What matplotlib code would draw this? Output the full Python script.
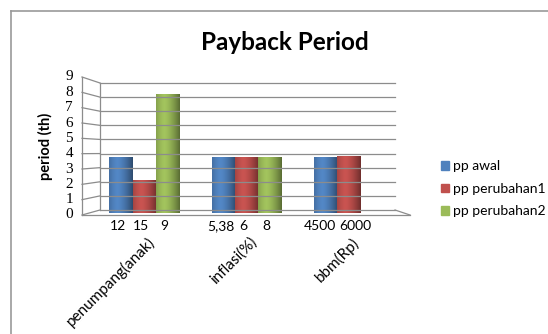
import numpy as np
import matplotlib
matplotlib.use("Agg")
import matplotlib.pyplot as plt
from matplotlib.patches import Rectangle
from matplotlib.lines import Line2D

plt.rcParams['font.family'] = ['Lato', 'DejaVu Sans']

categories = ["penumpang(anak)", "inflasi(%)", "bbm(Rp)"]
series = ["pp awal", "pp perubahan1", "pp perubahan2"]
pp_awal = [3.75, 3.75, 3.75]
pp_perubahan1 = [2.2, 3.75, 3.85]
pp_perubahan2 = [8.0, 3.75, 0]
bar_labels = [["12", "15", "9"], ["5,38", "6", "8"], ["4500", "6000", ""]]
colors = ["#4F81BD", "#C0504D", "#9BBB59"]

W, H = 548, 334
fig = plt.figure(figsize=(W / 100, H / 100), dpi=100)


def px_line(xs, ys, **kw):
    # decoration drawn in pixel coords (origin top-left)
    fig.add_artist(Line2D([v / W for v in xs], [1 - v / H for v in ys], **kw))


# chart frame (left + top border only visible)
px_line([11, 11], [334, 11], color="#999999", lw=1.2)
px_line([11, 548], [11, 11], color="#999999", lw=1.2)

# pseudo-3D walls: back wall 0..9 at y 210..83, front edge at y 215..77
grid_kw = dict(color="#8c8c8c", lw=0.9)
for t in range(10):
    yb = 210 - t * (210 - 83) / 9
    yf = 215 - t * (215 - 77) / 9
    px_line([100, 395], [yb, yb], **grid_kw)
    px_line([82, 100], [yf, yb], **grid_kw)
    fig.text(73 / W, 1 - yf / H, str(t), ha="right", va="center", fontsize=11,
             family="Liberation Serif")
px_line([82, 82], [77, 215], **grid_kw)
px_line([100, 100], [83, 210], **grid_kw)
px_line([82, 410], [215, 215], **grid_kw)
px_line([395, 410], [210, 215], **grid_kw)

# bars axes: 0 at y=213, 9 at y=79
ax = fig.add_axes([100 / W, 1 - 213 / H, (395 - 100) / W, (213 - 79) / H])
ax.patch.set_visible(False)
for s in ax.spines.values():
    s.set_visible(False)
ax.set_xticks([])
ax.set_yticks([])

x = np.arange(len(categories))
w = 0.225
vals = [pp_awal, pp_perubahan1, pp_perubahan2]
grad = np.linspace(0, 1, 64)
shade = 1 - 0.45 * (np.abs(grad - 0.35) / 0.65) ** 1.5
for i, (v, c) in enumerate(zip(vals, colors)):
    bars = ax.bar(x + (i - 1) * w, v, w, color=c, label=series[i], zorder=2)
    rgb = np.array(matplotlib.colors.to_rgb(c))
    img = np.clip(rgb[None, None, :] * shade[None, :, None] * 1.05, 0, 1)
    for b in bars:
        if b.get_height() <= 0:
            continue
        im = ax.imshow(img, extent=[b.get_x(), b.get_x() + b.get_width(), 0, b.get_height()],
                       aspect="auto", zorder=3)
        im.set_clip_path(b)

ax.set_xlim(-0.43, 2.45)
ax.set_ylim(0, 9)

for g in range(len(categories)):
    for i in range(3):
        # last group: push labels apart slightly so they don't touch
        dx = (i - 0.5) * 0.12 if g == 2 else -0.03
        ax.text(x[g] + (i - 1) * w + dx, -0.45, bar_labels[g][i], ha="center", va="top",
                fontsize=10, clip_on=False)
    ax.text(x[g] + 0.03, -1.45, categories[g], ha="right", va="top", rotation=45,
            rotation_mode="anchor", fontsize=11, clip_on=False)

fig.text(45 / W, 1 - 146 / H, "period (th)", ha="center", va="center", rotation=90,
         fontsize=10.5, fontweight="bold")

fig.text(285 / W, 1 - 42 / H, "Payback Period", ha="center", va="center",
         fontsize=17.5, fontweight="bold")

handles = [Rectangle((0, 0), 1, 1, color=c) for c in colors]
fig.legend(handles, series, loc="upper left", bbox_to_anchor=(428 / W, 1 - 148 / H),
           frameon=False, fontsize=10, handlelength=0.6, handleheight=0.6,
           handletextpad=0.3, labelspacing=0.75)

fig.savefig("out.png", dpi=100)
